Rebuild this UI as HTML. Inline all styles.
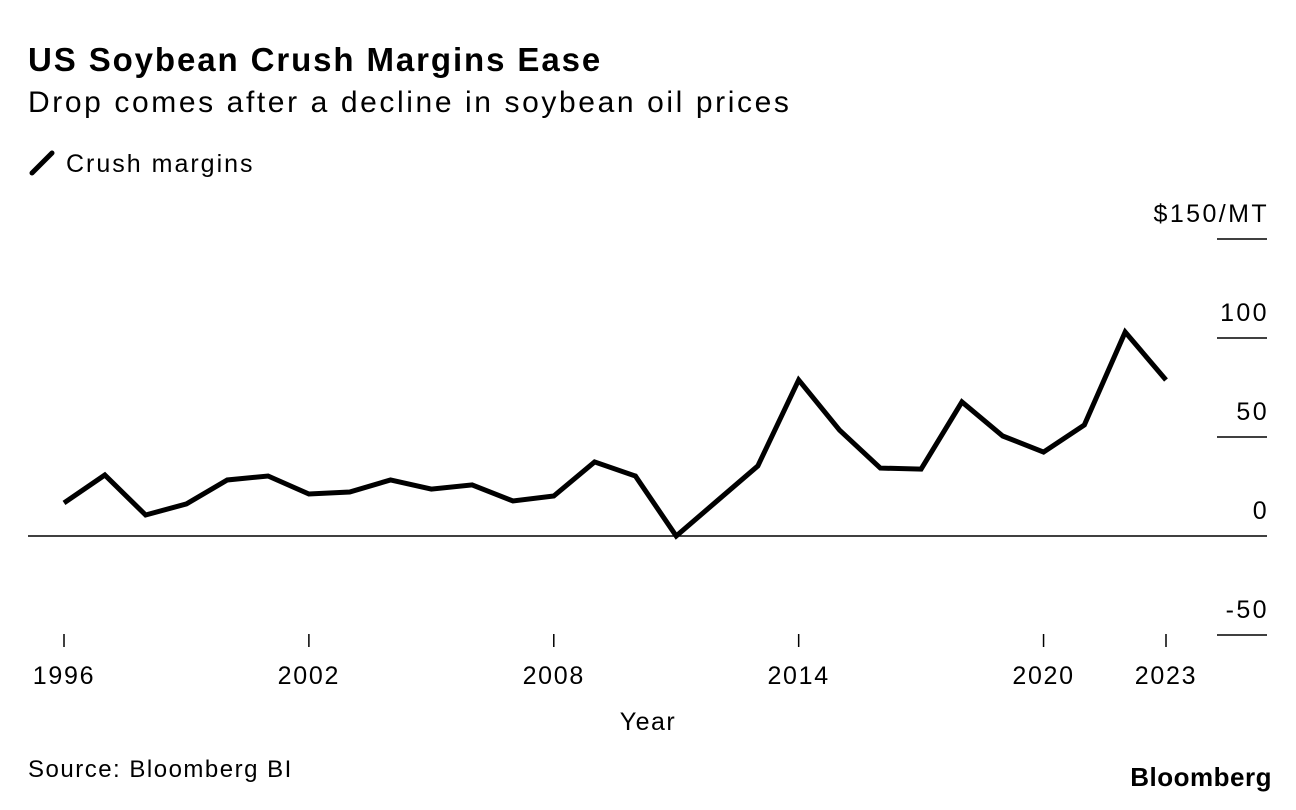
<!DOCTYPE html>
<html><head><meta charset="utf-8">
<style>
body{margin:0;background:#fff;font-family:"Liberation Sans",sans-serif;}
#wrap{position:relative;width:1296px;height:810px;overflow:hidden;}
.t{position:absolute;color:#000;white-space:nowrap;}
</style></head>
<body>
<div id="wrap">
<div class="t" style="left:28px;top:41px;font-size:33px;font-weight:bold;letter-spacing:1.9px;">US Soybean Crush Margins Ease</div>
<div class="t" style="left:28px;top:86px;font-size:30px;letter-spacing:2.6px;">Drop comes after a decline in soybean oil prices</div>
<div class="t" style="left:28px;top:149px;font-size:25px;letter-spacing:2px;"><svg width="30" height="28" style="vertical-align:-5px;margin-right:8px"><line x1="4" y1="24" x2="24" y2="4" stroke="#000" stroke-width="5" stroke-linecap="round"/></svg>Crush margins</div>
<svg id="chart" width="1296" height="810" style="position:absolute;left:0;top:0"></svg>
<div class="t" style="left:28px;top:756px;font-size:24px;letter-spacing:1.5px;">Source: Bloomberg BI</div>
<div class="t" style="right:24px;top:762px;font-size:26px;font-weight:bold;letter-spacing:0.5px;">Bloomberg</div>
</div>
<script>
const years=[1996,1997,1998,1999,2000,2001,2002,2003,2004,2005,2006,2007,2008,2009,2010,2011,2012,2013,2014,2015,2016,2017,2018,2019,2020,2021,2022,2023];
const margins=[16.7,30.8,10.6,16.2,28.3,30.3,21.2,22.2,28.3,23.7,25.8,17.7,20.2,37.4,30.3,0,17.7,35.4,78.8,53.5,34.3,33.8,67.7,50.5,42.4,56.1,103,78.8];
const yTicks=[150,100,50,0,-50];
const yTickLabels=["$150/MT","100","50","0","-50"];
const xTicks=[1996,2002,2008,2014,2020,2023];

const NS="http://www.w3.org/2000/svg";
const svg=document.getElementById('chart');
const x=v=>64+(v-1996)*(1166-64)/27;
const y=v=>536-v*(536-239)/150;
function mk(tag,attrs){const e=document.createElementNS(NS,tag);for(const k in attrs)e.setAttribute(k,attrs[k]);svg.appendChild(e);return e;}

yTicks.forEach((v,i)=>{
  const l=mk('line',{x1:v===0?28:1217,x2:1267,y1:y(v),y2:y(v),stroke:'#000','stroke-width':1.5});
  
  
  const t=mk('text',{x:1269,y:y(v)-17,'text-anchor':'end','font-size':25,'letter-spacing':'2.4','font-family':'Liberation Sans, sans-serif'});
  t.textContent=yTickLabels[i];
  
  
});
xTicks.forEach(v=>{
  const l=mk('line',{x1:x(v),x2:x(v),y1:634,y2:647,stroke:'#000','stroke-width':1.5});
  
  
  const t=mk('text',{x:x(v),y:684,'text-anchor':'middle','font-size':25,'letter-spacing':'1.7','font-family':'Liberation Sans, sans-serif'});
  t.textContent=v;
  
  
});
const xt=mk('text',{x:648,y:730,'text-anchor':'middle','font-size':25,'letter-spacing':'1.5','font-family':'Liberation Sans, sans-serif'});
xt.textContent='Year';


const p=mk('polyline',{points:years.map((yr,i)=>x(yr)+','+y(margins[i])).join(' '),fill:'none',stroke:'#000','stroke-width':5,'stroke-linejoin':'miter','stroke-linecap':'butt'});


</script>
</body></html>
